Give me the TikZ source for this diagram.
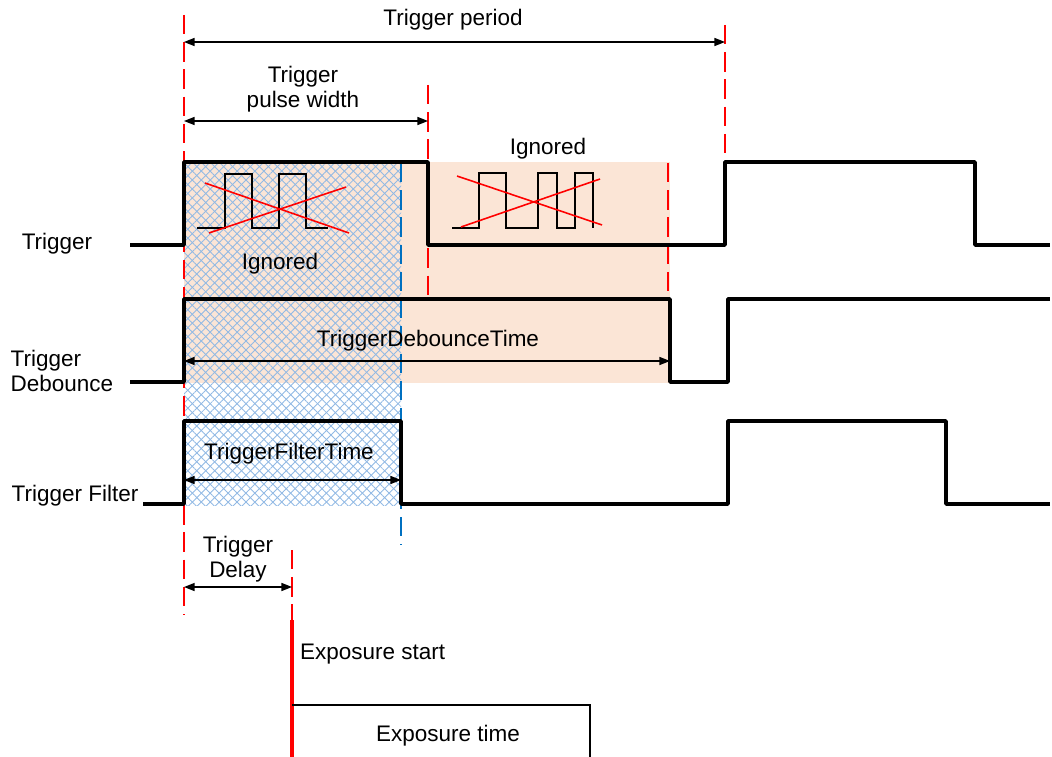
\documentclass[tikz,border=0pt]{standalone}
\usepackage{fontspec}
\setmainfont{Liberation Sans}
\usetikzlibrary{arrows.meta,patterns.meta}
\definecolor{ignfill}{RGB}{251,229,214}
\definecolor{hatchblue}{RGB}{145,185,228}
\definecolor{filterblue}{RGB}{0,112,192}

\begin{document}
\begin{tikzpicture}[x=0.02cm,y=-0.02cm,
    font=\fontsize{12.8}{14.5}\selectfont,
    signal/.style={line width=2pt,line join=round},
    smallpulse/.style={line width=0.7pt},
    cross/.style={red,line width=0.9pt},
    timemark/.style={red,line width=0.6pt,dash pattern=on 11pt off 4.5pt},
    dim/.style={line width=0.85pt,{Triangle[length=6pt,width=4.5pt]}-{Triangle[length=6pt,width=4.5pt]}}]
  \useasboundingbox (0,0) rectangle (1052,757);
  % ignored regions
  \fill[ignfill] (184,162) rectangle (670,383);
  \fill[pattern={Lines[angle=45,distance=3.6pt,line width=0.5pt]},pattern color=hatchblue]
        (184,162) rectangle (401,505);
  \fill[pattern={Lines[angle=-45,distance=3.6pt,line width=0.5pt]},pattern color=hatchblue]
        (184,162) rectangle (401,505);
  % dashed marks
  \draw[timemark] (184,15) -- (184,615);
  \draw[timemark] (428,85) -- (428,300);
  \draw[timemark] (725,25) -- (725,245);
  \draw[timemark] (668,163) -- (668,300);
  \draw[timemark] (292,550) -- (292,620);
  \draw[filterblue,line width=0.6pt,dash pattern=on 11pt off 4.5pt] (401,163) -- (401,545);
  % signals
  \node (trig) at (57,244) {Trigger};
  \node[align=left] (deb) at (62,371) {Trigger\\Debounce};
  \node (filt) at (75,496) {Trigger Filter};
  \draw[signal] (130,245) -- (184,245) -- (184,162) -- (428,162) -- (428,245)
        -- (725,245) -- (725,162) -- (975,162) -- (975,245) -- (1050,245);
  \draw[signal] (130,382) -- (184,382) -- (184,299) -- (670,299) -- (670,382)
        -- (728,382) -- (728,299) -- (1050,299);
  \draw[signal] (143,504) -- (184,504) -- (184,421) -- (401,421) -- (401,504)
        -- (728,504) -- (728,421) -- (946,421) -- (946,504) -- (1050,504);
  % ignored pulses
  \draw[smallpulse] (197,228) -- (225,228) -- (225,174) -- (252,174) -- (252,228)
        -- (279,228) -- (279,174) -- (306,174) -- (306,228) -- (328,228);
  \draw[cross] (205,183) -- (349,233);
  \draw[cross] (209,233) -- (346,187);
  \node (ign1) at (280,264) {Ignored};
  \draw[smallpulse] (452,228) -- (479,228) -- (479,173) -- (506,173) -- (506,228)
        -- (538,228) -- (538,173) -- (557,173) -- (557,228) -- (575,228)
        -- (575,173) -- (593,173) -- (593,228);
  \draw[cross] (457,176) -- (602,225);
  \draw[cross] (461,227) -- (600,179);
  \node (ign2) at (548,149) {Ignored};
  % dimensions
  \coordinate (perA) at (184,42);  \coordinate (perB) at (725,42);
  \draw[dim] (perA) -- (perB);
  \node (per) at (453,20) {Trigger period};
  \coordinate (pwA) at (184,121);  \coordinate (pwB) at (428,121);
  \draw[dim] (pwA) -- (pwB);
  \node[align=center] (pw) at (303,89) {Trigger\\pulse width};
  \coordinate (dbA) at (184,361);  \coordinate (dbB) at (670,361);
  \draw[dim] (dbA) -- (dbB);
  \node (db) at (428,341) {TriggerDebounceTime};
  \coordinate (ftA) at (184,480);  \coordinate (ftB) at (401,480);
  \draw[dim] (ftA) -- (ftB);
  \node (ft) at (289,454) {TriggerFilterTime};
  \coordinate (dlA) at (184,587);  \coordinate (dlB) at (292,587);
  \draw[dim] (dlA) -- (dlB);
  \node[align=center] (dl) at (238,559) {Trigger\\Delay};
  % exposure
  \draw[red,line width=2.3pt] (292,620) -- (292,757);
  \node[anchor=west] (expst) at (294,654) {Exposure start};
  \draw[line width=1.3pt] (292,705) -- (590,705) -- (590,757);
  \node (expt) at (448,736) {Exposure time};
\end{tikzpicture}
\end{document}
